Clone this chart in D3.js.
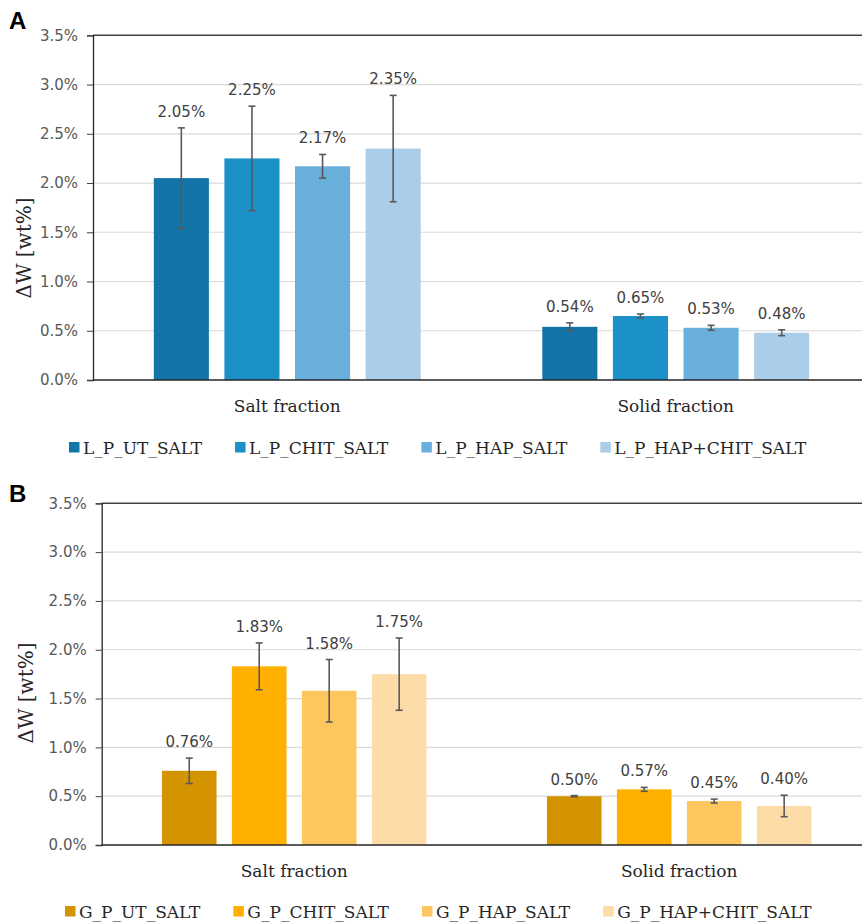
<!DOCTYPE html>
<html>
<head>
<meta charset="utf-8">
<script src="https://cdn.jsdelivr.net/npm/d3@7"></script>
<style>
  html, body { margin: 0; padding: 0; background: #fff; }
  svg { display: block; }
</style>
</head>
<body>
<svg id="chart" width="862" height="924"></svg>
<script>
// Shared categories and axis ticks
const categories = ["Salt fraction", "Solid fraction"];
const yTicks = [0, 0.5, 1.0, 1.5, 2.0, 2.5, 3.0, 3.5];

// Panel A: L_P samples
const seriesA = ["L_P_UT_SALT", "L_P_CHIT_SALT", "L_P_HAP_SALT", "L_P_HAP+CHIT_SALT"];
const saltA = [2.05, 2.25, 2.17, 2.35];
const solidA = [0.54, 0.65, 0.53, 0.48];
const saltErrA = [0.51, 0.53, 0.12, 0.54];
const solidErrA = [0.04, 0.02, 0.025, 0.03];
const colorsA = ["#1274a7", "#1b91c7", "#69afdc", "#aacde9"];

// Panel B: G_P samples
const seriesB = ["G_P_UT_SALT", "G_P_CHIT_SALT", "G_P_HAP_SALT", "G_P_HAP+CHIT_SALT"];
const saltB = [0.76, 1.83, 1.58, 1.75];
const solidB = [0.50, 0.57, 0.45, 0.40];
const saltErrB = [0.13, 0.24, 0.32, 0.37];
const solidErrB = [0.006, 0.02, 0.02, 0.11];
const colorsB = ["#d49400", "#ffb000", "#fec65e", "#fedca8"];

const svg = d3.select("#chart");

function drawPanel(opt) {
  const g = svg.append("g");
  const rows = [];
  opt.series.forEach((s, i) => {
    rows.push({ cat: categories[0], s, i, v: opt.salt[i], e: opt.saltErr[i] });
    rows.push({ cat: categories[1], s, i, v: opt.solid[i], e: opt.solidErr[i] });
  });

  const y = d3.scaleLinear().domain([0, 3.5]).range([opt.bottom, opt.top]);
  const x0 = d3.scaleBand().domain(categories)
    .range([opt.left, opt.right]).paddingInner(0.273).paddingOuter(0.1365);
  const x1 = d3.scaleBand().domain(opt.series)
    .range([0, x0.bandwidth()]).paddingInner(0.22).paddingOuter(0.11);
  const color = d3.scaleOrdinal().domain(opt.series).range(opt.colors);

  // gridlines
  g.append("g").selectAll("line").data(yTicks.filter(t => t > 0 && t < 3.5)).join("line")
    .attr("x1", opt.left).attr("x2", opt.right)
    .attr("y1", d => y(d)).attr("y2", d => y(d))
    .attr("stroke", "#d9d9d9").attr("stroke-width", 1.2);

  // top border
  g.append("line").attr("x1", opt.left).attr("x2", opt.right)
    .attr("y1", y(3.5)).attr("y2", y(3.5))
    .attr("stroke", "#404040").attr("stroke-width", 1.5);

  // y axis
  const yAxis = d3.axisLeft(y).tickValues(yTicks)
    .tickFormat(d => d.toFixed(1) + "%").tickSize(6).tickPadding(9);
  const ya = g.append("g").attr("transform", `translate(${opt.left},0)`).call(yAxis);
  ya.select(".domain").attr("stroke", "#262626").attr("stroke-width", 1.3);
  ya.selectAll(".tick line").attr("stroke", "#404040");
  ya.selectAll("text").attr("font-family", "DejaVu Sans").attr("font-size", 15)
    .attr("fill", "#595959");

  // bars
  g.append("g").selectAll("rect").data(rows).join("rect")
    .attr("x", d => x0(d.cat) + x1(d.s))
    .attr("y", d => y(d.v))
    .attr("width", x1.bandwidth())
    .attr("height", d => y(0) - y(d.v))
    .attr("fill", d => color(d.s));

  // baseline
  g.append("line").attr("x1", opt.left).attr("x2", opt.right)
    .attr("y1", y(0)).attr("y2", y(0))
    .attr("stroke", "#262626").attr("stroke-width", 1.3);

  // error bars
  const eb = g.append("g").attr("stroke", "#595959").attr("stroke-width", 1.6);
  rows.forEach(d => {
    const cx = x0(d.cat) + x1(d.s) + x1.bandwidth() / 2;
    const yt = y(d.v + d.e), yb = y(d.v - d.e);
    eb.append("line").attr("x1", cx).attr("x2", cx).attr("y1", yt).attr("y2", yb);
    eb.append("line").attr("x1", cx - 3.5).attr("x2", cx + 3.5).attr("y1", yt).attr("y2", yt);
    eb.append("line").attr("x1", cx - 3.5).attr("x2", cx + 3.5).attr("y1", yb).attr("y2", yb);
  });

  // value labels
  g.append("g").selectAll("text").data(rows).join("text")
    .attr("x", d => x0(d.cat) + x1(d.s) + x1.bandwidth() / 2)
    .attr("y", d => y(d.v + d.e) - 11)
    .attr("text-anchor", "middle")
    .attr("font-family", "DejaVu Sans").attr("font-size", 15)
    .attr("fill", "#404040")
    .text(d => d.v.toFixed(2) + "%");

  // category labels
  g.append("g").selectAll("text").data(categories).join("text")
    .attr("x", d => x0(d) + x0.bandwidth() / 2)
    .attr("y", opt.catY)
    .attr("text-anchor", "middle")
    .attr("font-family", "DejaVu Serif").attr("font-size", 17)
    .attr("fill", "#262626")
    .text(d => d);

  // y axis title
  g.append("text")
    .attr("transform", `translate(${opt.titleX},${opt.titleY}) rotate(-90)`)
    .attr("text-anchor", "middle")
    .attr("font-family", "DejaVu Serif").attr("font-size", 20)
    .attr("fill", "#262626")
    .text("ΔW [wt%]");

  // panel letter
  g.append("text").attr("x", 9).attr("y", opt.letterY)
    .attr("font-family", "Liberation Sans").attr("font-weight", "bold")
    .attr("font-size", 24).attr("fill", "#000").text(opt.letter);

  // legend
  const lg = g.append("g");
  let lx = opt.legendX;
  opt.series.forEach((s, i) => {
    lg.append("rect").attr("x", lx).attr("y", opt.legendY - 6).attr("width", 10.5).attr("height", 10.5)
      .attr("fill", color(s));
    const t = lg.append("text").attr("x", lx + 14).attr("y", opt.legendY + 5.5)
      .attr("font-family", "DejaVu Serif").attr("font-size", 17)
      .attr("fill", "#262626").text(s);
    lx += 14 + t.node().getComputedTextLength() + 33;
  });
}

drawPanel({
  letter: "A", letterY: 29,
  series: seriesA, salt: saltA, solid: solidA, saltErr: saltErrA, solidErr: solidErrA, colors: colorsA,
  left: 93, right: 870, top: 35.3, bottom: 380,
  catY: 412, titleX: 31, titleY: 248,
  legendX: 69, legendY: 448
});

drawPanel({
  letter: "B", letterY: 502,
  series: seriesB, salt: saltB, solid: solidB, saltErr: saltErrB, solidErr: solidErrB, colors: colorsB,
  left: 101.7, right: 871.7, top: 503.3, bottom: 845,
  catY: 877, titleX: 33, titleY: 693,
  legendX: 65, legendY: 912
});
</script>
</body>
</html>
